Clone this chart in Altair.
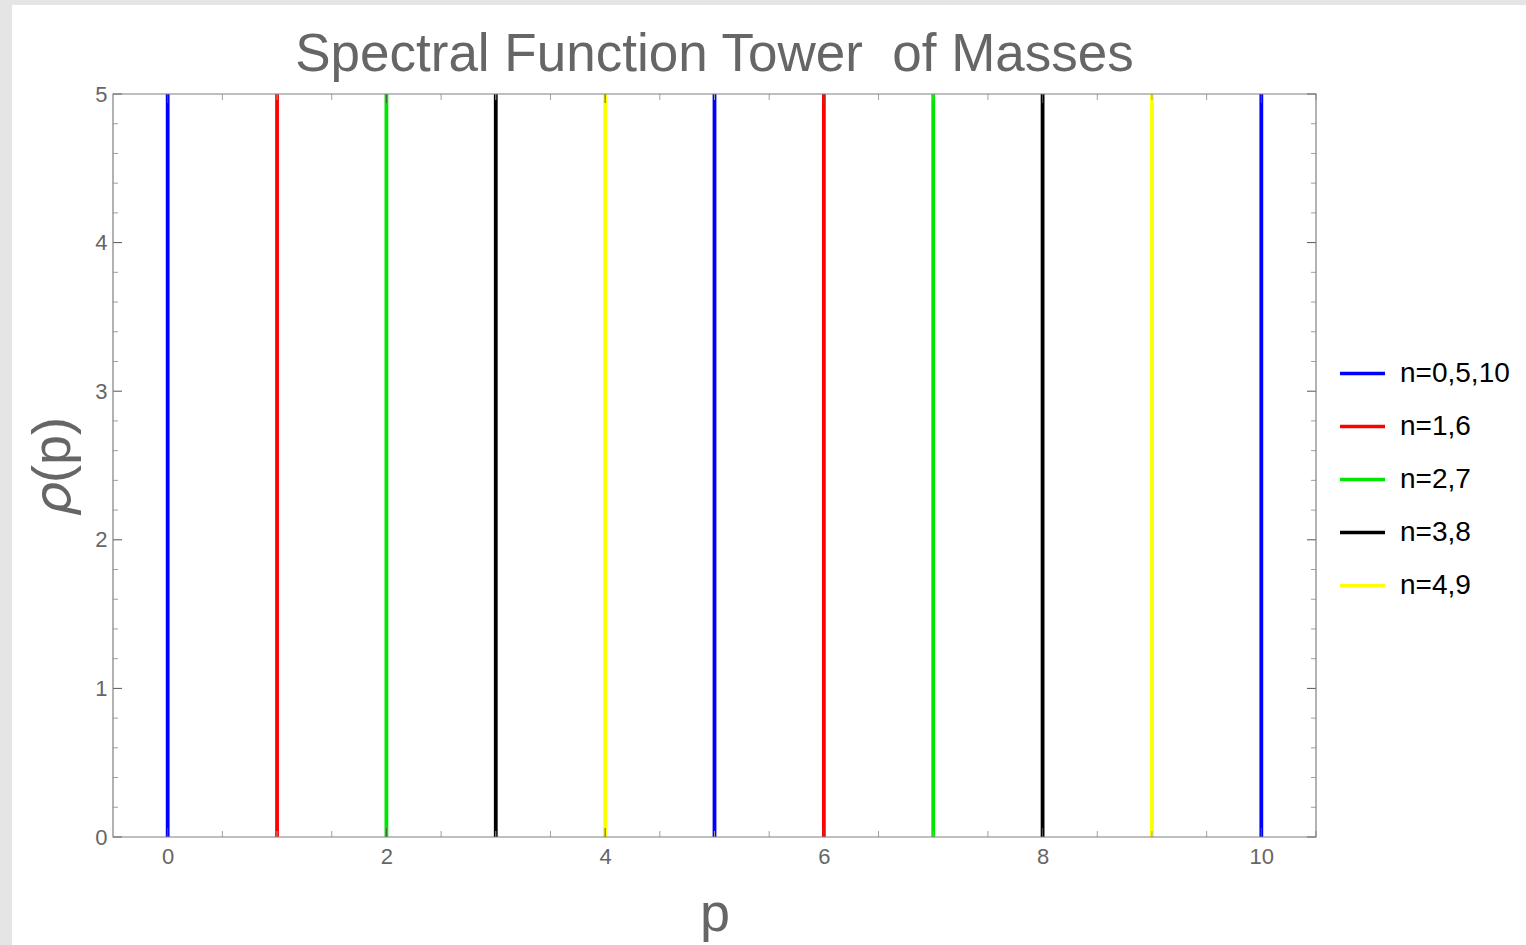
import altair as alt
import pandas as pd

# ---- data ----
masses = [0, 1, 2, 3, 4, 5, 6, 7, 8, 9, 10]
groups = ["n=0,5,10", "n=1,6", "n=2,7", "n=3,8", "n=4,9",
          "n=0,5,10", "n=1,6", "n=2,7", "n=3,8", "n=4,9", "n=0,5,10"]
rho_low = [0] * 11
rho_high = [5] * 11
legend_labels = ["n=0,5,10", "n=1,6", "n=2,7", "n=3,8", "n=4,9"]
legend_colors = ["#0000ff", "#ff0000", "#00e600", "#000000", "#ffff00"]

x_major = [0, 2, 4, 6, 8, 10]
x_minor = [0.5, 1, 1.5, 2.5, 3, 3.5, 4.5, 5, 5.5, 6.5, 7, 7.5, 8.5, 9, 9.5, 10.5]
y_major = [0, 1, 2, 3, 4, 5]
y_minor = [round(0.2 * i, 1) for i in range(26) if i % 5 != 0]

W, H = 1203, 743
FONT = "Liberation Sans"

lines_df = pd.DataFrame({"p": masses, "group": groups, "lo": rho_low, "hi": rho_high})
xmaj_df = pd.DataFrame({"t": x_major})
xmin_df = pd.DataFrame({"t": x_minor})
ymaj_df = pd.DataFrame({"t": y_major})
ymin_df = pd.DataFrame({"t": y_minor})

xscale = alt.Scale(domain=[-0.5, 10.5], nice=False, zero=False)
yscale = alt.Scale(domain=[0, 5], nice=False, zero=False)

one = pd.DataFrame({"a": [0]})

# white page panel (decoration around the gray border)
bg = alt.Chart(one).mark_rect(color="white").encode(
    x=alt.value(12 - 113), x2=alt.value(1526 - 113),
    y=alt.value(5 - 94), y2=alt.value(945 - 94),
)

lines = alt.Chart(lines_df).mark_rule(strokeWidth=3.8).encode(
    x=alt.X("p:Q", scale=xscale,
            axis=alt.Axis(values=x_major, format="d", ticks=False, domain=False,
                          grid=False, labelFontSize=22, labelColor="#666666",
                          labelFont=FONT, labelPadding=9, title="p", titleFont=FONT,
                          titleFontSize=54, titleFontWeight="normal",
                          titleColor="#666666", titleBaseline="alphabetic",
                          titleY=93, zindex=1)),
    y=alt.Y("lo:Q", scale=yscale,
            axis=alt.Axis(values=y_major, format="d", ticks=False, domain=False,
                          grid=False, labelFontSize=22, labelColor="#666666",
                          labelFont=FONT, labelPadding=6, title="\U0001D70C(p)",
                          titleFont=FONT, titleFontSize=54, titleFontWeight="normal",
                          titleColor="#666666", titleBaseline="alphabetic",
                          titleX=-44, titleY=371, zindex=1)),
    y2="hi:Q",
    color=alt.Color("group:N",
                    scale=alt.Scale(domain=legend_labels, range=legend_colors),
                    legend=alt.Legend(title=None, orient="none", legendX=1225,
                                      legendY=255, symbolType="stroke",
                                      symbolSize=2025, symbolStrokeWidth=3.5,
                                      labelFontSize=28, labelFont=FONT,
                                      labelColor="#000000", labelOffset=13,
                                      rowPadding=14, padding=0)),
)

frame = alt.Chart(one).mark_rect(fill=None, stroke="#808080", strokeWidth=1.2).encode(
    x=alt.value(0), x2=alt.value(W), y=alt.value(0), y2=alt.value(H)
)

def xticks(df, length, color):
    bot = alt.Chart(df).mark_rule(color=color, strokeWidth=1).encode(
        x=alt.X("t:Q", scale=xscale), y=alt.value(H), y2=alt.value(H - length))
    top = alt.Chart(df).mark_rule(color=color, strokeWidth=1).encode(
        x=alt.X("t:Q", scale=xscale), y=alt.value(0), y2=alt.value(length))
    return [bot, top]

def yticks(df, length, color):
    left = alt.Chart(df).mark_rule(color=color, strokeWidth=1).encode(
        y=alt.Y("t:Q", scale=yscale), x=alt.value(0), x2=alt.value(length))
    right = alt.Chart(df).mark_rule(color=color, strokeWidth=1).encode(
        y=alt.Y("t:Q", scale=yscale), x=alt.value(W), x2=alt.value(W - length))
    return [left, right]

layers = [bg, lines]
layers += xticks(xmin_df, 6, "#a0a0a0")
layers += xticks(xmaj_df, 9, "#555555")
layers += yticks(ymin_df, 5, "#a0a0a0")
layers += yticks(ymaj_df, 9, "#555555")
layers += [frame]

chart = alt.layer(*layers).properties(
    width=W, height=H,
    title=alt.TitleParams("Spectral Function Tower\u00a0 of Masses", font=FONT,
                          fontSize=53, fontWeight="normal", color="#666666",
                          anchor="middle", frame="group", baseline="alphabetic",
                          offset=26, dy=145),
    autosize=alt.AutoSizeParams(type="none"),
    padding={"left": 113, "top": 94, "right": 210, "bottom": 108},
    background="#e6e5e5",
).configure_view(stroke=None)

chart.save("out.html", embed_options={"renderer": "svg", "actions": False})
